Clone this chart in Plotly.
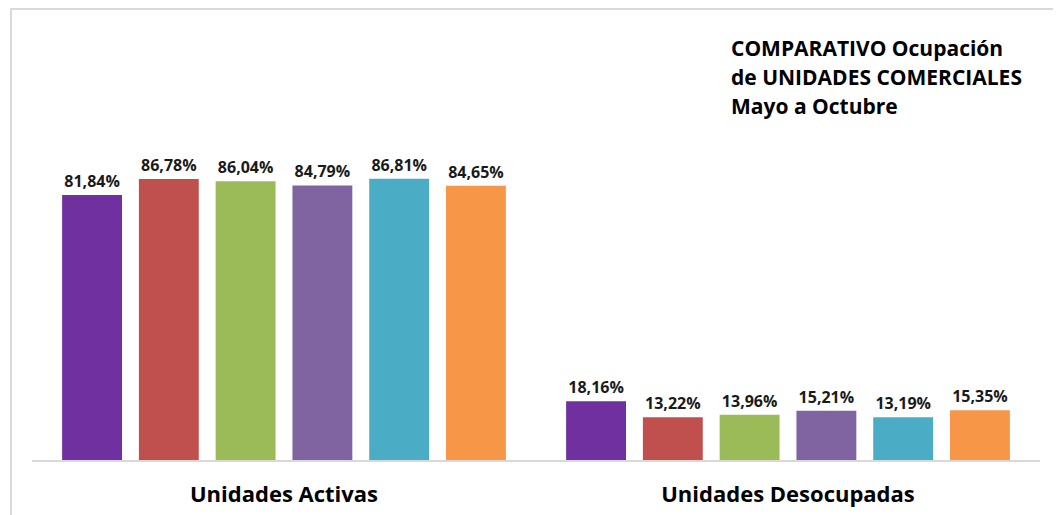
import plotly.graph_objects as go

categorias = ["Unidades Activas", "Unidades Desocupadas"]
meses = ["Mayo", "Junio", "Julio", "Agosto", "Septiembre", "Octubre"]
mayo = [81.84, 18.16]
junio = [86.78, 13.22]
julio = [86.04, 13.96]
agosto = [84.79, 15.21]
septiembre = [86.81, 13.19]
octubre = [84.65, 15.35]
series = [mayo, junio, julio, agosto, septiembre, octubre]
colores = ["#7030A0", "#C0504D", "#9BBB59", "#8064A2", "#4BACC6", "#F79646"]

titulo = ["COMPARATIVO Ocupación", "de UNIDADES COMERCIALES", "Mayo a Octubre"]

FONT = "Open Sans, sans-serif"

fig = go.Figure()
for mes, valores, color in zip(meses, series, colores):
    fig.add_trace(go.Bar(
        name=mes,
        x=categorias,
        y=valores,
        marker=dict(color=color, line=dict(width=0)),
        text=[f"{v:.2f}%".replace(".", ",") for v in valores],
        textposition="outside",
        textfont=dict(size=16, color="#1a1a1a", family=FONT, weight="bold"),
        cliponaxis=False,
    ))

# light border around the chart area (cut off on the right and bottom)
fig.add_shape(type="rect", xref="paper", yref="paper",
              x0=-0.0208, x1=1.2, y0=-0.3, y1=1.071,
              line=dict(color="#d9d9d9", width=2), layer="below")

# title block, one annotation per line for Excel-like line spacing
for i, linea in enumerate(titulo):
    fig.add_annotation(
        text=linea, xref="paper", yref="paper",
        x=0.691, y=0.9786 - i * 0.0689, xanchor="left", yanchor="middle",
        showarrow=False, align="left",
        font=dict(size=21, color="#000000", family=FONT, weight="bold"),
    )

fig.update_layout(
    width=1053, height=507,
    margin=dict(l=24, r=21, t=31, b=55, autoexpand=False),
    barmode="group", bargap=0.086, bargroupgap=0.22,
    showlegend=False,
    plot_bgcolor="white", paper_bgcolor="white",
    font=dict(family=FONT, color="#000000"),
    xaxis=dict(showline=True, linecolor="#d9d9d9", linewidth=2, automargin=False,
               ticks="", showgrid=False, ticklabelstandoff=14,
               tickfont=dict(size=22, family=FONT, color="#000000", weight="bold")),
    yaxis=dict(range=[0, 130], visible=False, showgrid=False, zeroline=False,
               automargin=False),
)

fig.write_html("out.html")
